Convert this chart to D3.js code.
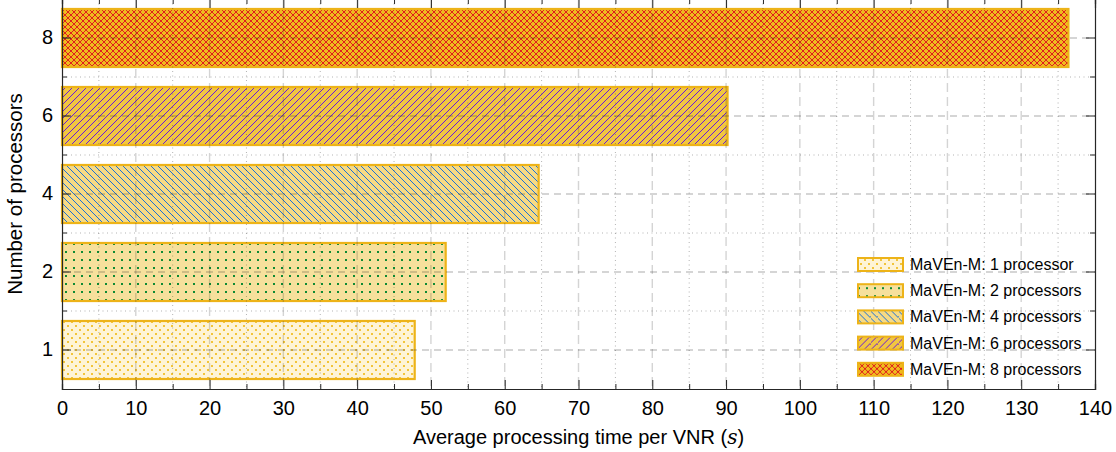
<!DOCTYPE html>
<html><head><meta charset="utf-8">
<script src="https://cdn.jsdelivr.net/npm/d3@7"></script>
<style>
html,body{margin:0;padding:0;background:#fff;}
svg{display:block;font-family:"Liberation Sans",Arial,Helvetica,sans-serif;}
</style></head>
<body>
<svg id="chart" width="1116" height="452"></svg>
<script>
// ---- data ----
const categories = ["1", "2", "4", "6", "8"];
const values = [47.8, 52.0, 64.6, 90.2, 136.4];
const legendLabels = ["MaVEn-M: 1 processor", "MaVEn-M: 2 processors", "MaVEn-M: 4 processors", "MaVEn-M: 6 processors", "MaVEn-M: 8 processors"];
const xTicks = [0,10,20,30,40,50,60,70,80,90,100,110,120,130,140];
const xMinorTicks = [5,15,25,35,45,55,65,75,85,95,105,115,125,135];

// ---- layout ----
const svg = d3.select("#chart");
const L = 62, R = 1095, T = -1, B = 389;
const outline = "#EDB318";
const axisColor = "#262626";

const x = d3.scaleLinear().domain([0,140]).range([L,R]);
const y = d3.scaleBand().domain(categories.slice().reverse()).range([T,B]).paddingInner(0.256).paddingOuter(0.128);
const yb = d3.scaleBand().domain(categories.slice().reverse()).range([T,B]).padding(0);

// ---- patterns ----
const defs = svg.append("defs");
function pat(id, w, h, bg, draw){
  const p = defs.append("pattern").attr("id", id).attr("patternUnits","userSpaceOnUse")
    .attr("width", w).attr("height", h).attr("x", L).attr("y", 0);
  p.append("rect").attr("width", w).attr("height", h).attr("fill", bg);
  draw(p);
}
pat("p1", 8, 8, "#FEF4D6", p => {
  p.append("rect").attr("x",1).attr("y",1).attr("width",2).attr("height",2).attr("fill","#F2C43A");
  p.append("rect").attr("x",5).attr("y",5).attr("width",2).attr("height",2).attr("fill","#F2C43A");
});
pat("p2", 8, 8, "#F6E09C", p => {
  p.append("rect").attr("x",3).attr("y",3).attr("width",2).attr("height",2).attr("fill","#0E8A34");
});
pat("p4", 7, 7, "#F7DA84", p => {
  p.append("path").attr("d","M-1,-1 L8,8 M-1,6 L1,8 M6,-1 L8,1").attr("stroke","#1C70D6").attr("stroke-width",1)
    .attr("shape-rendering","crispEdges");
});
pat("p6", 7, 7, "#F1C640", p => {
  p.append("path").attr("d","M-1,8 L8,-1 M-1,1 L1,-1 M6,8 L8,6").attr("stroke","#6A1AD8").attr("stroke-width",1)
    .attr("shape-rendering","crispEdges");
});
pat("p8", 6, 6, "#EFBB1E", p => {
  p.append("path").attr("d","M0,0 L6,6 M0,6 L6,0").attr("stroke","#E01E1E").attr("stroke-width",1)
    .attr("shape-rendering","crispEdges");
});
const fills = ["url(#p1)","url(#p2)","url(#p4)","url(#p6)","url(#p8)"];

// ---- bars ----
svg.append("g").selectAll("rect").data(categories).join("rect")
  .attr("x", x(0))
  .attr("y", d => y(d))
  .attr("width", (d,i) => x(values[i]) - x(0))
  .attr("height", y.bandwidth())
  .attr("fill", (d,i) => fills[i])
  .attr("stroke", outline).attr("stroke-width", 2.2);

// ---- grid (on top) ----
const grid = svg.append("g");
grid.selectAll(".vmaj").data(xTicks.slice(1,-1)).join("line")
  .attr("x1", d => x(d)).attr("x2", d => x(d)).attr("y1", T).attr("y2", B)
  .attr("stroke", "rgba(38,38,38,0.2)").attr("stroke-width", 1.4).attr("stroke-dasharray","9,5");
grid.selectAll(".vmin").data(xMinorTicks).join("line")
  .attr("x1", d => x(d)).attr("x2", d => x(d)).attr("y1", T).attr("y2", B)
  .attr("stroke", "rgba(38,38,38,0.35)").attr("stroke-width", 1).attr("stroke-dasharray","1,3.5");
grid.selectAll(".hmaj").data(categories).join("line")
  .attr("x1", L).attr("x2", R).attr("y1", d => y(d)+y.bandwidth()/2).attr("y2", d => y(d)+y.bandwidth()/2)
  .attr("stroke", "rgba(38,38,38,0.26)").attr("stroke-width", 1.4).attr("stroke-dasharray","7,5");
grid.selectAll(".hmin").data(categories.slice(0,-1)).join("line")
  .attr("x1", L).attr("x2", R).attr("y1", d => yb(d)).attr("y2", d => yb(d))
  .attr("stroke", "rgba(38,38,38,0.35)").attr("stroke-width", 1).attr("stroke-dasharray","1,3.5");

// ---- axes ----
const xb = d3.axisBottom(x).tickValues(xTicks).tickSize(-9).tickPadding(12).tickFormat(d3.format("d"));
svg.append("g").attr("transform",`translate(0,${B})`).call(xb);
svg.append("g").attr("transform",`translate(0,${B})`).call(d3.axisBottom(x).tickValues(xMinorTicks).tickSize(-5).tickFormat(""));
svg.append("g").attr("transform",`translate(0,${T})`).call(d3.axisTop(x).tickValues(xTicks).tickSize(-9).tickFormat(""));
svg.append("g").attr("transform",`translate(0,${T})`).call(d3.axisTop(x).tickValues(xMinorTicks).tickSize(-5).tickFormat(""));
svg.append("g").attr("transform",`translate(${L},0)`).call(d3.axisLeft(y).tickSize(-9).tickPadding(9));
svg.append("g").attr("transform",`translate(${R},0)`).call(d3.axisRight(y).tickSize(-9).tickFormat(""));
const yMinor = categories.slice(0,-1).map(d => yb(d));
[[L,-1],[R,1]].forEach(([px,s]) => {
  svg.append("g").selectAll("line").data(yMinor).join("line")
    .attr("x1", px).attr("x2", px - s*5).attr("y1", d => d).attr("y2", d => d)
    .attr("stroke", axisColor).attr("stroke-width", 1);
});
svg.selectAll(".domain").attr("stroke", axisColor).attr("stroke-width", 1.2);
svg.selectAll(".tick line").attr("stroke", axisColor).attr("stroke-width", 1);
svg.selectAll(".tick text").attr("fill", "#000").attr("font-size", 20).attr("font-family", '"Liberation Sans",Arial,sans-serif');

// ---- titles ----
const xt = svg.append("text").attr("x", (L+R)/2).attr("y", 444).attr("text-anchor","middle")
  .attr("font-size", 20).attr("fill","#000");
xt.append("tspan").text("Average processing time per VNR (");
xt.append("tspan").text("s").attr("font-style","italic").attr("font-family",'"DejaVu Serif","Liberation Serif",serif');
xt.append("tspan").text(")");
svg.append("text").attr("transform",`translate(22,${(T+B)/2}) rotate(-90)`).attr("text-anchor","middle")
  .attr("font-size", 20.5).attr("fill","#000").text("Number of processors");

// ---- legend ----
const lg = svg.append("g").attr("transform","translate(857,258)");
const row = lg.selectAll("g").data(legendLabels).join("g").attr("transform",(d,i)=>`translate(0,${i*26.2})`);
row.append("rect").attr("x",1).attr("y",0).attr("width",45).attr("height",13)
  .attr("fill",(d,i)=>fills[i]).attr("stroke",outline).attr("stroke-width",2);
row.append("text").attr("x",53).attr("y",12).attr("font-size",16).attr("fill","#000").text(d=>d);
</script>
</body></html>
